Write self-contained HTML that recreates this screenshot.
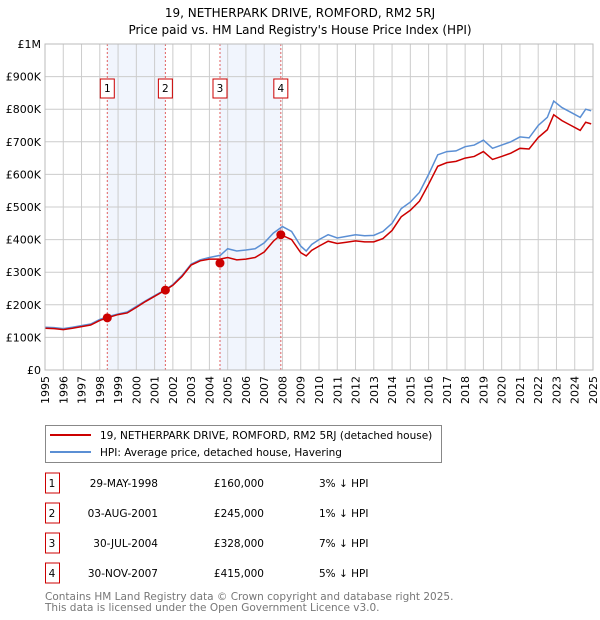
<!DOCTYPE html>
<html><head><meta charset="utf-8"><style>
body{margin:0;background:#fff;}
svg{display:block;font-family:"DejaVu Sans","Liberation Sans",sans-serif;}
</style></head><body>
<svg id="chart" width="600" height="620" viewBox="0 0 600 620" xmlns="http://www.w3.org/2000/svg">
<text x="300" y="17" text-anchor="middle" font-size="12">19, NETHERPARK DRIVE, ROMFORD, RM2 5RJ</text>
<text x="300" y="34" text-anchor="middle" font-size="12">Price paid vs. HM Land Registry's House Price Index (HPI)</text>
<g id="plot"></g>
<g>
<rect x="45.5" y="425.5" width="396" height="37" fill="#fff" stroke="#888"/>
<line x1="50" y1="435" x2="91" y2="435" stroke="#cc0000" stroke-width="2"/>
<text x="100" y="439" font-size="10.5">19, NETHERPARK DRIVE, ROMFORD, RM2 5RJ (detached house)</text>
<line x1="50" y1="452" x2="91" y2="452" stroke="#5b8fd4" stroke-width="2"/>
<text x="100" y="456" font-size="10.5">HPI: Average price, detached house, Havering</text>
</g>
<g id="table" font-size="10.5"></g>
<text x="45" y="600" font-size="10.5" fill="#777">Contains HM Land Registry data © Crown copyright and database right 2025.</text>
<text x="45" y="611" font-size="10.5" fill="#777">This data is licensed under the Open Government Licence v3.0.</text>
</svg>
<script>
const hpiYears=[1995,1995.5,1996,1996.5,1997,1997.5,1998,1998.4,1999,1999.5,2000,2000.5,2001,2001.6,2002,2002.5,2003,2003.5,2004,2004.6,2005,2005.5,2006,2006.5,2007,2007.5,2008,2008.5,2009,2009.3,2009.6,2010,2010.5,2011,2011.5,2012,2012.5,2013,2013.5,2014,2014.5,2015,2015.5,2016,2016.5,2017,2017.5,2018,2018.5,2019,2019.5,2020,2020.5,2021,2021.5,2022,2022.5,2022.85,2023.3,2023.8,2024.3,2024.6,2024.9];
const hpiValues=[131,130,127,131,136,141,155,163,172,178,195,212,228,247,262,290,325,338,345,352,372,365,368,372,390,420,440,425,380,365,385,400,415,405,410,415,412,413,425,450,495,515,545,600,660,670,672,685,690,705,680,690,700,715,712,750,775,825,805,790,775,800,795];
const paidYears=[1995,1995.5,1996,1996.5,1997,1997.5,1998,1998.41,1999,1999.5,2000,2000.5,2001,2001.59,2002,2002.5,2003,2003.5,2004,2004.58,2005,2005.5,2006,2006.5,2007,2007.5,2007.91,2008.5,2009,2009.3,2009.6,2010,2010.5,2011,2011.5,2012,2012.5,2013,2013.5,2014,2014.5,2015,2015.5,2016,2016.5,2017,2017.5,2018,2018.5,2019,2019.5,2020,2020.5,2021,2021.5,2022,2022.5,2022.85,2023.3,2023.8,2024.3,2024.6,2024.9];
const paidValues=[128,127,124,128,133,138,152,160,170,175,192,210,226,245,260,287,322,335,340,340,345,338,340,345,362,395,415,400,360,350,367,380,395,388,392,396,393,393,403,428,470,490,518,570,625,636,640,650,655,670,646,655,665,680,678,713,737,783,765,750,735,760,755];
const saleYears=[1998.41,2001.59,2004.58,2007.91];
const saleValues=[160,245,328,415];
const saleLabels=["1","2","3","4"];
const saleDates=["29-MAY-1998","03-AUG-2001","30-JUL-2004","30-NOV-2007"];
const salePrices=["£160,000","£245,000","£328,000","£415,000"];
const saleDiffs=["3% ↓ HPI","1% ↓ HPI","7% ↓ HPI","5% ↓ HPI"];
const yTicks=[0,100,200,300,400,500,600,700,800,900,1000];
const yTickLabels=["£0","£100K","£200K","£300K","£400K","£500K","£600K","£700K","£800K","£900K","£1M"];
const xTicks=[1995,1996,1997,1998,1999,2000,2001,2002,2003,2004,2005,2006,2007,2008,2009,2010,2011,2012,2013,2014,2015,2016,2017,2018,2019,2020,2021,2022,2023,2024,2025];

const X0=45,X1=593,Y0=370,Y1=44;
const xs=y=>X0+(y-1995)/30*(X1-X0);
const ys=v=>Y0-v/1000*(Y0-Y1);
const NS="http://www.w3.org/2000/svg";
const plot=document.getElementById('plot');
function mk(tag,attrs,parent){const e=document.createElementNS(NS,tag);for(const k in attrs)e.setAttribute(k,attrs[k]);(parent||plot).appendChild(e);return e;}

// shaded regions
for(let i=0;i<saleYears.length;i+=2){
  const r=mk('rect',{x:xs(saleYears[i]),y:Y1,width:xs(saleYears[i+1])-xs(saleYears[i]),height:Y0-Y1,fill:'#eef3fc',opacity:0.8});
  
  
}
// grid
yTicks.forEach((t,i)=>{
  const l=mk('line',{x1:X0,x2:X1,y1:ys(t),y2:ys(t),stroke:'#cccccc','stroke-width':1});
  
  
  const tx=mk('text',{x:X0-4,y:ys(t)+4,'text-anchor':'end','font-size':11});
  tx.textContent=yTickLabels[i];
  
  
});
xTicks.forEach(t=>{
  const l=mk('line',{x1:xs(t),x2:xs(t),y1:Y1,y2:Y0,stroke:'#cccccc','stroke-width':1});
  
  
  const tx=mk('text',{x:0,y:0,'text-anchor':'end','font-size':11,transform:`translate(${xs(t)+4},${Y0+6}) rotate(-90)`});
  tx.textContent=t;
  
  
});
// vlines + labels
saleYears.forEach((y,i)=>{
  const l=mk('line',{x1:xs(y),x2:xs(y),y1:Y1,y2:Y0,stroke:'#e06060','stroke-width':1,'stroke-dasharray':'2,2'});
  
  
  const b=mk('rect',{x:xs(y)-7,y:79,width:14,height:19,fill:'#fff',stroke:'#cc0000','stroke-width':1});
  
  
  const t=mk('text',{x:xs(y),y:92,'text-anchor':'middle','font-size':10.5});
  t.textContent=saleLabels[i];
  
  
});
// lines
const hp=mk('polyline',{points:hpiYears.map((y,i)=>xs(y)+','+ys(hpiValues[i])).join(' '),fill:'none',stroke:'#5b8fd4','stroke-width':1.5});


const pp=mk('polyline',{points:paidYears.map((y,i)=>xs(y)+','+ys(paidValues[i])).join(' '),fill:'none',stroke:'#cc0000','stroke-width':1.5});


saleYears.forEach((y,i)=>{
  const c=mk('circle',{cx:xs(y),cy:ys(saleValues[i]),r:4.5,fill:'#cc0000'});
  
  
});
// axes frame
const f=mk('rect',{x:X0,y:Y1,width:X1-X0,height:Y0-Y1,fill:'none',stroke:'#bbbbbb'});


// table
const tb=document.getElementById('table');
const rowY=[483,513,543,573];
saleLabels.forEach((s,i)=>{
  const b=mk('rect',{x:45.5,y:rowY[i]-10,width:14,height:20,fill:'#fff',stroke:'#cc0000'},tb);
  
  
  const cells=[[52,'middle',s],[158,'end',saleDates[i]],[264,'end',salePrices[i]],[319,'start',saleDiffs[i]]];
  cells.forEach(c=>{
    const t=mk('text',{x:c[0],y:rowY[i]+4,'text-anchor':c[1]},tb);
    t.textContent=c[2];
    
    
  });
});
</script>
</body></html>
